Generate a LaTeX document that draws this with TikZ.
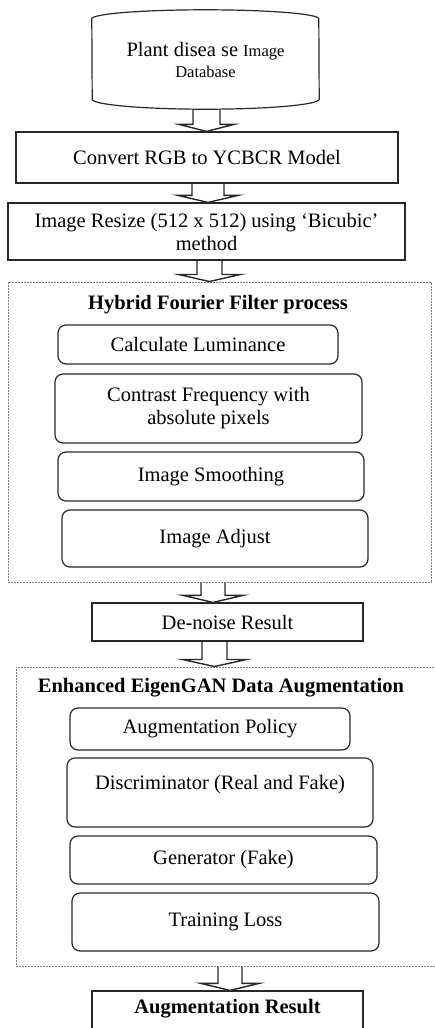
\documentclass[tikz,border=0pt]{standalone}
\usepackage{fontspec}
\setmainfont{Liberation Serif}
\usetikzlibrary{calc}
\definecolor{edgeC}{RGB}{40,40,40}
\definecolor{dotC}{RGB}{125,125,125}
\newcommand{\fatarrow}[5]{%
  % #1 = from node, #2 = to node, #3 = centre x, #4 = half shaft, #5 = half head
  \pgfmathsetmacro{\faL}{#3-#4}
  \pgfmathsetmacro{\faR}{#3+#4}
  \pgfmathsetmacro{\faLL}{#3-#5}
  \pgfmathsetmacro{\faRR}{#3+#5}
  \coordinate (fa top) at (#1.south);
  \coordinate (fa head) at ([yshift=7pt]#2.north);
  \draw[fatarr] (\faL,0 |- fa top) -- (\faL,0 |- fa head) -- (\faLL,0 |- fa head)
    -- (#3,0 |- #2.north) -- (\faRR,0 |- fa head) -- (\faR,0 |- fa head)
    -- (\faR,0 |- fa top);
}

\begin{document}
\begin{tikzpicture}[x=1pt, y=-1pt,
  every node/.style={font=\fontsize{20.5}{23}\selectfont, text=black},
  box/.style={draw=edgeC, line width=1.2pt, align=center, inner sep=0pt},
  roundbox/.style={box, rounded corners=8pt},
  groupbox/.style={draw=dotC, line width=1pt, dash pattern=on 2pt off 1pt, inner sep=0pt},
  title/.style={font=\fontsize{20.5}{23}\selectfont\bfseries},
  fatarr/.style={draw=edgeC, line width=1.4pt, line join=miter}]

\useasboundingbox (0,0) rectangle (435,1028);
\clip (0,0) rectangle (435,1028);

% --- database -------------------------------------------------------------
\node (db) [minimum width=227pt, minimum height=99pt, inner sep=0pt, align=center]
  at (205.5,59.5)
  {Plant disea se {\fontsize{16.5}{21}\selectfont Image}\\[-2pt]
   {\fontsize{16.5}{21}\selectfont Database}};
\draw[edgeC, line width=1.2pt]
  ([yshift=-9pt]db.north west) arc[start angle=180, end angle=0, x radius=113.5pt, y radius=9pt]
  -- ([yshift=10pt]db.south east) arc[start angle=0, end angle=-180, x radius=113.5pt, y radius=10pt]
  -- cycle;

% --- pre-processing -------------------------------------------------------
\node (rgb) [box, minimum width=382pt, minimum height=51pt] at (207,157.5)
  {Convert RGB to YCBCR Model};
\node (resize) [box, minimum width=397pt, minimum height=57pt] at (206.5,231.5)
  {Image Resize (512 x 512) using `Bicubic'\\ method};

% --- hybrid fourier filter ------------------------------------------------
\node (hff) [groupbox, minimum width=423pt, minimum height=300pt] at (219.5,432) {};
\node (hfftitle) [title] at (218,305) {Hybrid Fourier Filter process};
\node (lum) [roundbox, minimum width=280pt, minimum height=39pt] at (198,344.5)
  {Calculate Luminance};
\node (contrast) [roundbox, minimum width=307pt, minimum height=69pt] at (208.5,408.5)
  {Contrast Frequency with\\ absolute pixels};
\node (smooth) [roundbox, minimum width=306pt, minimum height=49pt] at (211,476.5)
  {Image Smoothing};
\node (adjust) [roundbox, minimum width=306pt, minimum height=57pt] at (215,538.5)
  {Image Adjust};

\node (denoise) [box, minimum width=271pt, minimum height=38pt] at (227.5,622)
  {De-noise Result};

% --- eigengan augmentation ------------------------------------------------
\node (eig) [groupbox, minimum width=421pt, minimum height=299pt] at (226.5,816.5) {};
\node (eigtitle) [title] at (221,688) {Enhanced EigenGAN Data Augmentation};
\node (policy) [roundbox, minimum width=280pt, minimum height=42pt] at (210,729)
  {Augmentation Policy};
\node (disc) [roundbox, minimum width=306pt, minimum height=69pt, text depth=20pt]
  at (220,792.5) {Discriminator (Real and Fake)};
\node (gen) [roundbox, minimum width=307pt, minimum height=48pt] at (223.5,860)
  {Generator (Fake)};
\node (loss) [roundbox, minimum width=307pt, minimum height=58pt] at (225.5,922)
  {Training Loss};

\node (result) [box, minimum width=271pt, minimum height=43pt, text depth=13pt,
  font=\fontsize{20.5}{23}\selectfont\bfseries] at (227.5,1012.5)
  {Augmentation Result};

% --- block arrows ---------------------------------------------------------
\fatarrow{db}{rgb}{206.5}{13.5}{27.5}
\fatarrow{rgb}{resize}{208}{16}{30}
\fatarrow{resize}{hff}{209.5}{12.5}{31}
\fatarrow{hff}{denoise}{213}{12}{30}
\fatarrow{denoise}{eig}{214.5}{12.5}{32}
\fatarrow{eig}{result}{230}{12}{29}

\end{tikzpicture}
\end{document}
